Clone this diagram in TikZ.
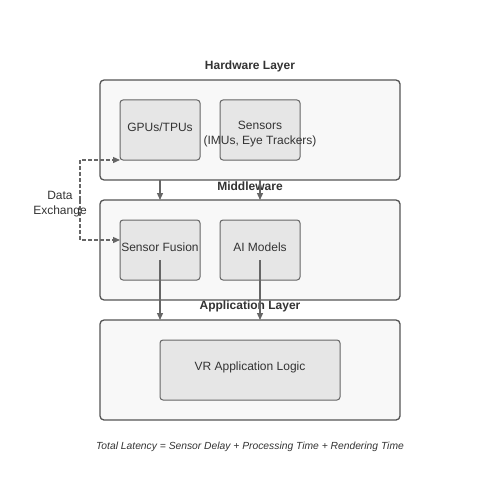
\documentclass[tikz,border=0pt]{standalone}
\usepackage{fontspec}
\setmainfont{Liberation Sans}
\usetikzlibrary{arrows.meta}
\definecolor{txt}{HTML}{333333}
\definecolor{edge}{HTML}{555555}
\definecolor{ln}{HTML}{666666}
\definecolor{outerfill}{HTML}{F8F8F8}
\definecolor{innerfill}{HTML}{E6E6E6}
\begin{document}
\begin{tikzpicture}[x=1pt,y=-1pt,
  layerbox/.style={draw=edge,fill=outerfill,line width=1.3pt,rounded corners=4pt},
  compbox/.style={draw=ln,fill=innerfill,line width=1pt,rounded corners=3pt},
  lbl/.style={font=\fontsize{12}{15}\selectfont,text=txt,align=center,inner sep=0pt},
  ttl/.style={font=\fontsize{12}{15}\selectfont\bfseries,text=txt,inner sep=0pt},
  conn/.style={draw=ln,line width=1.3pt,-{Triangle[length=7pt,width=6pt]}},
  dconn/.style={conn,dash pattern=on 4pt off 2pt}]
\useasboundingbox (0,0) rectangle (500,500);
% layers
\draw[layerbox] (100,80) rectangle (400,180);
\draw[layerbox] (100,200) rectangle (400,300);
\draw[layerbox] (100,320) rectangle (400,420);
\node[ttl] (hwt) at (250,66.5) {Hardware Layer};
\node[ttl] (mwt) at (250,186.5) {Middleware};
\node[ttl] (apt) at (250,306.5) {Application Layer};
\coordinate (hwb1) at (160,180);
\coordinate (hwb2) at (260,180);
\coordinate (mwt1) at (160,200);
\coordinate (mwt2) at (260,200);
\coordinate (apt1) at (160,320);
\coordinate (apt2) at (260,320);
% components
\draw[compbox] (120,100) rectangle (200,160);
\node[lbl] (gpu) at (160,127) {GPUs/TPUs};
\draw[compbox] (220,100) rectangle (300,160);
\node[lbl] (sens) at (260,134.5) {Sensors\\(IMUs, Eye Trackers)};
\draw[compbox] (120,220) rectangle (200,280);
\node[lbl] (sf) at (160,247) {Sensor Fusion};
\draw[compbox] (220,220) rectangle (300,280);
\node[lbl] (ai) at (260,247) {AI Models};
\draw[compbox] (160,340) rectangle (340,400);
\node[lbl] (vr) at (250,367) {VR Application Logic};
\coordinate (gpul) at (120,160);
\coordinate (sfl) at (120,240);
\coordinate (sfb) at (160,260);
\coordinate (aib) at (260,260);
% connectors
\draw[conn] (hwb1) -- (mwt1);
\draw[conn] (hwb2) -- (mwt2);
\draw[conn] (sfb) -- (apt1);
\draw[conn] (aib) -- (apt2);
\draw[dconn] (80,200) -- (80,160) -- (gpul);
\draw[dconn] (80,200) -- (80,240) -- (sfl);
\node[lbl] (dx) at (60,204) {Data\\Exchange};
\node[font=\fontsize{10.3}{12}\selectfont\itshape,text=txt,inner sep=0pt] (lat) at (250,447) {Total Latency = Sensor Delay + Processing Time + Rendering Time};
\end{tikzpicture}
\end{document}
